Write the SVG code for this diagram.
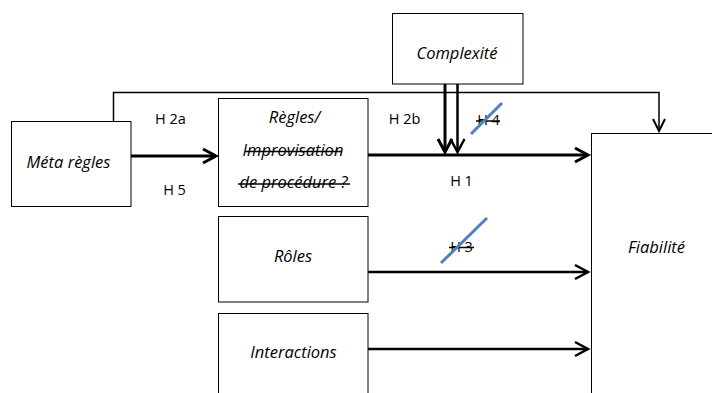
<svg xmlns="http://www.w3.org/2000/svg" width="712" height="393" viewBox="0 0 712 393">
<style>
  .box { fill: #ffffff; stroke: #000000; stroke-width: 1; }
  .lbl { font-family: "Open Sans", "Liberation Sans", sans-serif; font-size: 16.5px; font-style: italic; fill: #000; text-anchor: middle; }
  .h { font-family: "Open Sans", "Liberation Sans", sans-serif; font-size: 14.5px; fill: #000; text-anchor: middle; }
  .strike { stroke: #000; stroke-width: 1.5; }
  .slash { stroke: #4f81bd; stroke-width: 3; }
  .thin { fill: none; stroke: #000; stroke-width: 1.5; }
  .c3 { fill: none; stroke: #000; stroke-width: 3; }
  .c2 { fill: none; stroke: #000; stroke-width: 2.5; }
</style>
<defs>
  <marker id="ah3" markerUnits="userSpaceOnUse" markerWidth="20" markerHeight="20" refX="0" refY="0" viewBox="-16 -10 20 20" orient="auto" overflow="visible">
    <path d="M-13,-7 L0,0 L-13,7" fill="none" stroke="#000" stroke-width="3"/>
  </marker>
  <marker id="ah2" markerUnits="userSpaceOnUse" markerWidth="20" markerHeight="20" refX="0" refY="0" viewBox="-16 -10 20 20" orient="auto" overflow="visible">
    <path d="M-13,-7 L0,0 L-13,7" fill="none" stroke="#000" stroke-width="2.5"/>
  </marker>
  <marker id="ah1" markerUnits="userSpaceOnUse" markerWidth="20" markerHeight="20" refX="0" refY="0" viewBox="-16 -10 20 20" orient="auto" overflow="visible">
    <path d="M-12,-6 L0,0 L-12,6" fill="none" stroke="#000" stroke-width="2"/>
  </marker>
</defs>

<g id="connectors">
  <polyline class="thin" points="113.5,121 113.5,92.5 659,92.5 659,131" marker-end="url(#ah1)"/>
  <line class="c3" x1="131" y1="156" x2="216" y2="156" marker-end="url(#ah3)"/>
  <line class="c3" x1="368" y1="155" x2="588" y2="155" marker-end="url(#ah3)"/>
  <line class="c3" x1="445" y1="84" x2="445" y2="152" marker-end="url(#ah3)"/>
  <line class="c2" x1="457.5" y1="84" x2="457.5" y2="152" marker-end="url(#ah2)"/>
  <line class="c2" x1="368" y1="272" x2="588" y2="272" marker-end="url(#ah2)"/>
  <line class="c2" x1="368" y1="349" x2="588" y2="349" marker-end="url(#ah2)"/>
</g>

<g id="meta">
  <rect class="box" x="11.5" y="121.5" width="119.5" height="85"/>
  <text class="lbl" x="68.5" y="168">Méta règles</text>
</g>

<g id="regles">
  <rect class="box" x="218.5" y="98.5" width="149.5" height="108"/>
  <text class="lbl" x="294.5" y="123">Règles/</text>
  <text class="lbl" x="293" y="155.5">Improvisation</text>
  <line class="strike" x1="245" y1="151.5" x2="341" y2="151.5"/>
  <text class="lbl" x="293.5" y="188">de procédure ?</text>
  <line class="strike" x1="238" y1="184" x2="350" y2="184"/>
</g>

<g id="complexite">
  <rect class="box" x="392.5" y="13.5" width="130.5" height="70.5"/>
  <text class="lbl" x="457" y="59">Complexité</text>
</g>

<g id="roles">
  <rect class="box" x="218.5" y="216.5" width="149.5" height="85.5"/>
  <text class="lbl" x="293" y="262">Rôles</text>
</g>

<g id="interactions">
  <rect class="box" x="218.5" y="313.5" width="149.5" height="100"/>
  <text class="lbl" x="293.5" y="358">Interactions</text>
</g>

<g id="fiabilite">
  <rect class="box" x="591.5" y="133.5" width="200" height="300"/>
  <text class="lbl" x="656.5" y="253">Fiabilité</text>
</g>

<g id="labels">
  <text class="h" x="170.5" y="124">H 2a</text>
  <text class="h" x="174.5" y="195">H 5</text>
  <text class="h" x="404.5" y="124">H 2b</text>
  <text class="h" x="461.5" y="186">H 1</text>
  <text class="h" x="488.5" y="125">H 4</text>
  <line class="strike" x1="476" y1="121" x2="500" y2="121"/>
  <line class="slash" x1="471" y1="134" x2="502" y2="103"/>
  <text class="h" x="461.5" y="252">H 3</text>
  <line class="strike" x1="449" y1="247.5" x2="474" y2="247.5"/>
  <line class="slash" x1="441" y1="263" x2="487" y2="218"/>
</g>
</svg>
